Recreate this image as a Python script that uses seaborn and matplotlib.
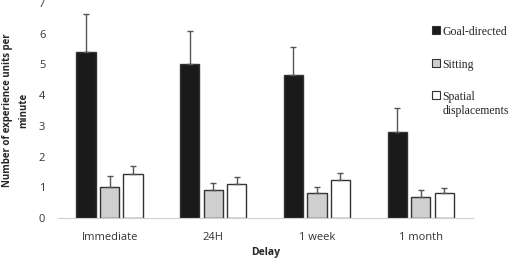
import numpy as np
import pandas as pd
import seaborn as sns
import matplotlib.pyplot as plt
from matplotlib.patches import Patch

# values
delays = ['Immediate', '24H', '1 week', '1 month']
behaviours = ['Goal-directed', 'Sitting', 'Spatial displacements']
goal_directed = [5.4, 5.0, 4.65, 2.8]
sitting = [1.0, 0.9, 0.82, 0.68]
spatial = [1.42, 1.1, 1.23, 0.82]
goal_err = [1.25, 1.07, 0.93, 0.78]
sitting_err = [0.37, 0.23, 0.19, 0.22]
spatial_err = [0.28, 0.23, 0.24, 0.16]

colors = ['#1a1a1a', '#cfcfcf', '#ffffff']
legend_labels = ['Goal-directed', 'Sitting', 'Spatial\ndisplacements']

df = pd.DataFrame({
    'Delay': delays * 3,
    'Behaviour': np.repeat(behaviours, len(delays)),
    'Rate': goal_directed + sitting + spatial,
})
errors = [goal_err, sitting_err, spatial_err]

sns.set_style('white')
plt.rcParams['font.family'] = ['Open Sans', 'DejaVu Sans']

fig = plt.figure(figsize=(5.25, 2.63), dpi=100)
ax = fig.add_axes([0.11, 0.171, 0.79, 0.818])

sns.barplot(data=df, x='Delay', y='Rate', hue='Behaviour', order=delays,
            hue_order=behaviours, palette=colors, width=0.68, gap=0.18,
            edgecolor='#333333', linewidth=1.0, errorbar=None, legend=False, ax=ax)

# one-sided (upward) error bars
for container, err in zip(ax.containers, errors):
    for bar, e in zip(container, err):
        x = bar.get_x() + bar.get_width() / 2
        h = bar.get_height()
        ax.errorbar(x, h, yerr=[[0], [e]], fmt='none', ecolor='#555555',
                    elinewidth=1.0, capsize=2.5, capthick=1.0, zorder=1)

ax.set_ylim(0, 7)
ax.set_xlim(-0.5, 3.5)
ax.set_yticks(range(0, 8))
sns.despine(ax=ax, left=True)
ax.spines['bottom'].set_color('#d0d0d0')
ax.tick_params(axis='both', length=0, labelsize=8, colors='#333333')
ax.tick_params(axis='x', pad=10)
ax.tick_params(axis='y', pad=9)
ax.set_xlabel('Delay', fontsize=7.5, fontweight='bold', labelpad=3)
ax.set_ylabel('Number of experience units per\nminute', fontsize=7,
              fontweight='bold', labelpad=7, linespacing=1.7)

handles = [Patch(facecolor=c, edgecolor='#333333', linewidth=0.8) for c in colors]
leg = ax.legend(handles, legend_labels, loc='upper left', bbox_to_anchor=(0.89, 0.915),
                frameon=False, handlelength=0.7, handleheight=0.7, handletextpad=0.2,
                labelspacing=1.75, borderaxespad=0,
                prop={'family': 'Liberation Serif', 'size': 8.5})
# keep the square next to the first line of a two-line label
for column in leg._legend_handle_box.get_children():
    for row in column.get_children():
        row.align = 'top'

fig.savefig('out.png', dpi=100)
